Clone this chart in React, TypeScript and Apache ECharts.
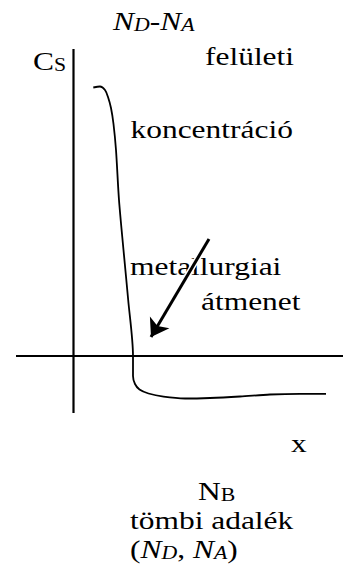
import React, { useEffect, useRef } from 'react';
import * as echarts from 'echarts';

// Concentration profile N_D - N_A versus depth x (arbitrary units, origin at the axes' crossing)
const curveX = [19.8, 26.5, 31.5, 34.5, 37.5, 40.0, 42.5, 45.5, 50.0, 54.7, 59.5, 59.5, 61.5, 66.0, 75.0, 90.0, 111.5, 136.5, 166.5, 196.5, 226.5, 252.5];
const curveY = [268.5, 269.5, 266.0, 259.0, 248.0, 232.0, 206.0, 156.0, 106.0, 56.0, 0.0, -20.0, -28.0, -33.5, -37.5, -40.7, -42.5, -42.0, -40.5, -38.5, -37.8, -37.8];

// Axes (drawn as plain lines through the origin)
const vAxisX = [0, 0];
const vAxisY = [307, -57];
const hAxisX = [-57.5, 269.5];
const hAxisY = [0, 0];

// Arrow pointing at the metallurgical junction
const arrowFrom = [135.5, 117];
const arrowTo = [77.5, 19];
const haloTo = [88, 37];

// Texts
const yTitleMain = 'C';
const yTitleSub = 'S';
const topTitle = ['N', 'D', '-', 'N', 'A'];
const surfaceLines = ['felületi', 'koncentráció'];
const junctionLines = ['metallurgiai', 'átmenet'];
const xLabel = 'x';
const bulkMain = 'N';
const bulkSub = 'B';
const bulkText = 'tömbi adalék';
const bulkDopants = ['(', 'N', 'D', ', ', 'N', 'A', ')'];

const FONT = 'Liberation Serif';
const FS = 26;
const SUB = 18;
const SX = 1.21;

const rich = {
  r: { fontFamily: FONT, fontSize: FS, lineHeight: FS, verticalAlign: 'middle', fill: '#000' },
  i: { fontFamily: FONT, fontSize: FS, lineHeight: FS, verticalAlign: 'middle', fontStyle: 'italic', fill: '#000' },
  s: { fontFamily: FONT, fontSize: SUB, lineHeight: 10, verticalAlign: 'bottom', fill: '#000' },
  is: { fontFamily: FONT, fontSize: SUB, lineHeight: 10, verticalAlign: 'bottom', fontStyle: 'italic', fill: '#000' },
};

const txt = (x: number, baseline: number, text: string) => ({
  type: 'text',
  x,
  y: baseline - 21.8,
  scaleX: SX,
  z: 1,
  style: { text, rich, fontFamily: FONT, fontSize: FS, verticalAlign: 'top', align: 'left', fill: '#000' },
});

export default function App() {
  const ref = useRef<HTMLDivElement>(null);
  useEffect(() => {
    document.body.style.margin = '0';
    if (!ref.current) return;
    const chart = echarts.init(ref.current, null, { renderer: 'svg' });
    const pair = (xs: number[], ys: number[]) => xs.map((v, k) => [v, ys[k]]);
    chart.setOption({
      animation: false,
      backgroundColor: '#fff',
      grid: { left: 0, right: 0, top: 0, bottom: 0 },
      xAxis: { type: 'value', min: -73.5, max: 276.5, show: false },
      yAxis: { type: 'value', min: -218, max: 356, show: false },
      graphic: {
        elements: [
          txt(113, 29.5, `{i|${topTitle[0]}}{is|${topTitle[1]}}{r|${topTitle[2]}}{i|${topTitle[3]}}{is|${topTitle[4]}}`),
          txt(33, 69.5, `{r|${yTitleMain}}{s|${yTitleSub}}`),
          txt(205, 65, `{r|${surfaceLines[0]}}`),
          txt(130.5, 137.5, `{r|${surfaceLines[1]}}`),
          txt(130, 275, `{r|${junctionLines[0]}}`),
          txt(201, 310, `{r|${junctionLines[1]}}`),
          txt(291, 451.7, `{r|${xLabel}}`),
          txt(198, 499.3, `{r|${bulkMain}}{s|${bulkSub}}`),
          txt(130, 528.3, `{r|${bulkText}}`),
          txt(130, 558, `{r|${bulkDopants[0]}}{i|${bulkDopants[1]}}{is|${bulkDopants[2]}}{r|${bulkDopants[3]}}{i|${bulkDopants[4]}}{is|${bulkDopants[5]}}{r|${bulkDopants[6]}}`),
        ],
      },
      series: [
        {
          type: 'line', data: pair(vAxisX, vAxisY), symbol: 'none', silent: true,
          lineStyle: { color: '#000', width: 2.2 }, z: 3,
        },
        {
          type: 'line', data: pair(hAxisX, hAxisY), symbol: 'none', silent: true,
          lineStyle: { color: '#000', width: 2.2 }, z: 3,
        },
        {
          type: 'line', data: pair(curveX, curveY), symbol: 'none', smooth: 0.3, silent: true,
          lineStyle: { color: '#000', width: 1.8 }, z: 4,
        },
        {
          type: 'lines', coordinateSystem: 'cartesian2d', silent: true, z: 9,
          symbol: ['none', 'none'],
          lineStyle: { color: '#fff', width: 6, opacity: 1 },
          data: [{ coords: [arrowFrom, haloTo] }],
        },
        {
          type: 'lines', coordinateSystem: 'cartesian2d', silent: true, z: 10,
          symbol: ['none', 'arrow'], symbolSize: [14, 17],
          lineStyle: { color: '#000', width: 3, opacity: 1 },
          data: [{ coords: [arrowFrom, arrowTo] }],
        },
      ],
    });
    return () => chart.dispose();
  }, []);
  return <div ref={ref} style={{ width: 350, height: 574 }} />;
}
